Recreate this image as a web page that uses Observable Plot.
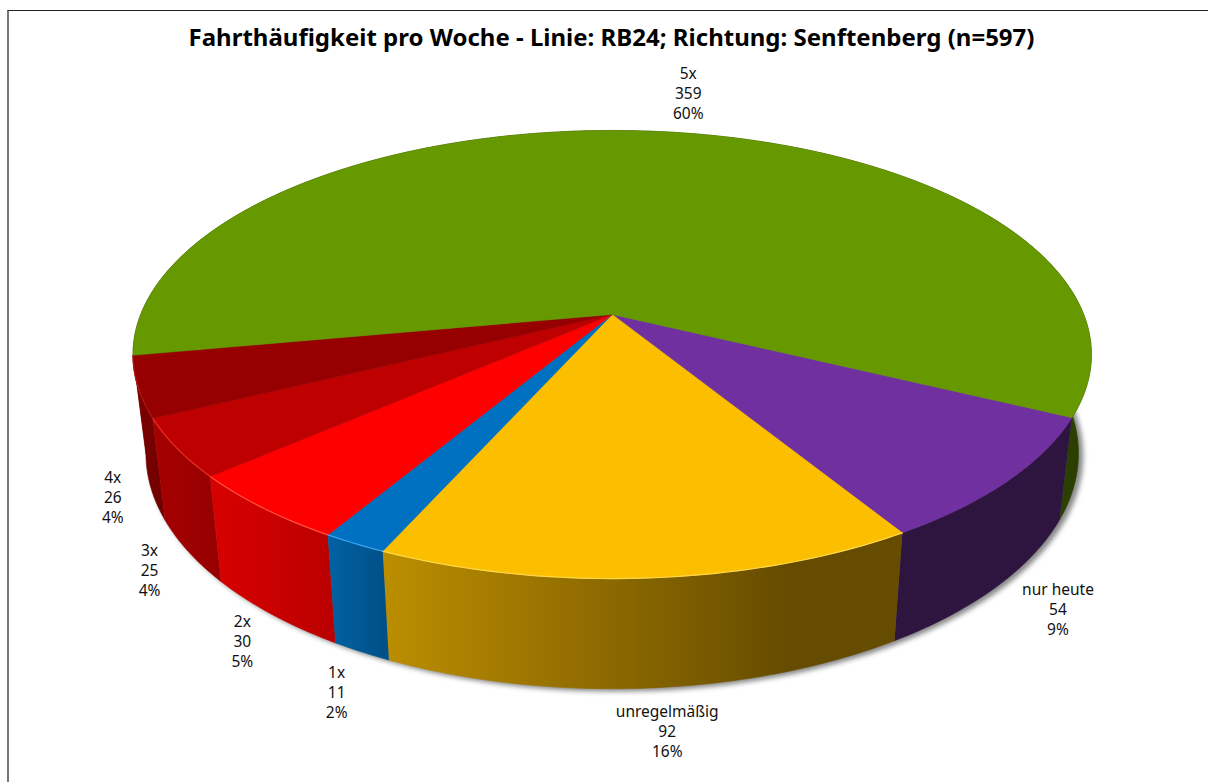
<!DOCTYPE html>
<html lang="de"><head><meta charset="utf-8">
<script src="https://cdn.jsdelivr.net/npm/d3@7"></script>
<script src="https://cdn.jsdelivr.net/npm/@observablehq/plot@0.6"></script>
<style>
html,body{margin:0;padding:0;background:#fff;overflow:hidden}
#frame{position:absolute;left:7px;top:10px;width:1201px;height:772px;box-sizing:border-box;border-top:1.5px solid #222;border-left:2px solid #777}
#title{position:absolute;left:0;top:27px;width:1208px;height:28px;margin:0;text-align:center;font:bold 24px/20px "Noto Sans",sans-serif;color:#000;padding-left:15px;box-sizing:border-box;white-space:nowrap}
#chart{position:absolute;left:0;top:56px}
</style></head><body>
<div id="frame"></div>
<h1 id="title">Fahrthäufigkeit pro Woche - Linie: RB24; Richtung: Senftenberg (n=597)</h1>
<div id="chart"></div>
<script>
// Data, clockwise from the right-hand rim
const categories = ["nur heute","unregelmäßig","1x","2x","3x","4x","5x"];
const counts     = [54,92,11,30,25,26,359];
const shares     = ["9%","16%","2%","5%","4%","4%","60%"];

// Styles
const topColors  = ["#7030A0","#FBBF00","#0070C0","#FF0000","#BE0000","#960000","#669900"];
const sideStops  = [
  [["0","#2D1540"],["1","#2D1540"]],
  [["0","#BC8E00"],["0.78","#664C00"],["1","#664C00"]],
  [["0","#0062A4"],["1","#004F85"]],
  [["0","#D80000"],["1","#BA0000"]],
  [["0","#A60000"],["1","#960000"]],
  [["0","#7E0000"],["1","#700000"]],
  [["0","#2A3F00"],["1","#2A3F00"]]
];
const rimColors  = [null,"#FFD84A","#3BA4F0","#FF5040","#E83020","#B01818",null];
const labelNudge = [[60,23],[19,43],[-25,40],[-30,26],[-39,18],[-38,9],[22,-39]];

// Layout of the tilted pie
const W = 1208, H = 726, top0 = 56;
const cx = 611.7, cy = 314, unitX = 471.5, unitY = 216.9;
const tilt = -0.1786, startDeg = 26, shrink = 0.973, stretch = 1.05, drop = 97 / unitY;

const total = d3.sum(counts);
const rad = d => d * Math.PI / 180;
const topPt = deg => {
  const X = Math.cos(rad(deg)), Z = Math.sin(rad(deg)), w = 1 + tilt * Z;
  return {x: X / w, y: Z / w};
};
const lowPt = deg => {
  const p = topPt(deg);
  return {x: p.x * shrink, y: drop + p.y * stretch};
};
let run = startDeg;
const slices = categories.map((name, i) => {
  const a0 = run, a1 = run + counts[i] / total * 360;
  run = a1;
  const n = Math.max(2, Math.ceil(a1 - a0));
  const degs = d3.range(n + 1).map(k => a0 + (a1 - a0) * k / n);
  return {name, i, mid: (a0 + a1) / 2, degs};
});

// Gradients for the side walls
const defs = () => {
  const d = d3.create("svg:defs");
  sideStops.forEach((stops, i) => {
    const g = d.append("linearGradient").attr("id", "side" + i)
      .attr("x1", 0).attr("x2", 1).attr("y1", 0).attr("y2", 0);
    stops.forEach(([o, c]) => g.append("stop").attr("offset", o).attr("stop-color", c));
  });
  return d.node();
};

const X = d => d.x, Y = d => d.y;
const shadowPts = d3.range(0, 361, 2).map(d => lowPt(d)).map(p => ({x: p.x + 4 / unitX, y: p.y + 2 / unitY}));
const drawOrder = [6, 0, 1, 5, 4, 3, 2];

const sideMarks = drawOrder.map(i => {
  const s = slices[i];
  const pts = [...s.degs.map(d => topPt(d)), ...s.degs.slice().reverse().map(d => lowPt(d))];
  return Plot.line(pts, {x: X, y: Y, fill: `url(#side${i})`, stroke: `url(#side${i})`, strokeWidth: 0.6, curve: "linear"});
});
const topMarks = slices.map(s => Plot.line(
  [{x: 0, y: 0}, ...s.degs.map(d => topPt(d)), {x: 0, y: 0}],
  {x: X, y: Y, fill: topColors[s.i], stroke: topColors[s.i], strokeWidth: 0.5, curve: "linear"}
));
const rimMarks = slices.filter(s => rimColors[s.i]).map(s => Plot.line(
  s.degs.map(d => topPt(d)),
  {x: X, y: Y, stroke: rimColors[s.i], strokeWidth: 1.2, curve: "linear"}
));

const labels = slices.map(s => {
  const base = s.i === 6 ? topPt(s.mid) : lowPt(s.mid);
  const [dx, dy] = labelNudge[s.i];
  return {
    x: base.x + dx / unitX,
    y: base.y + dy / unitY,
    text: `${s.name}\n${counts[s.i]}\n${shares[s.i]}`
  };
});

const chart = Plot.plot({
  width: W, height: H, margin: 0,
  style: {background: "transparent", overflow: "visible"},
  x: {domain: [-cx / unitX, (W - cx) / unitX], range: [0, W], axis: null},
  y: {domain: [(top0 - cy) / unitY, (top0 + H - cy) / unitY], range: [0, H], axis: null},
  marks: [
    defs,
    Plot.line(shadowPts, {x: X, y: Y, fill: "#888", stroke: "#888", imageFilter: "blur(2.5px)", curve: "linear"}),
    ...sideMarks,
    ...topMarks,
    ...rimMarks,
    Plot.text(labels, {x: X, y: Y, text: "text", fontSize: 15.5, lineHeight: 1.29, lineAnchor: "middle",
      fontFamily: '"Noto Sans", sans-serif', fill: "#111"})
  ]
});
document.getElementById("chart").append(chart);
</script>
</body></html>
